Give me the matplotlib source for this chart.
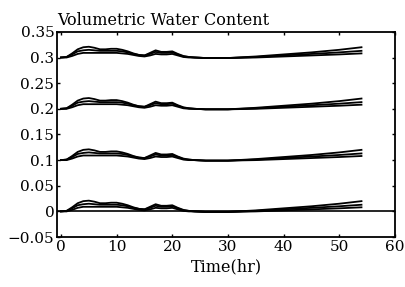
import matplotlib
matplotlib.use("Agg")
import matplotlib.pyplot as plt
import numpy as np

# time (hr)
t = [0, 1, 2, 3, 4, 5, 6, 7, 8, 9, 10, 11, 12, 13, 14, 15, 16, 17, 18, 19,
     20, 21, 22, 23, 24, 26, 28, 30, 35, 40, 45, 50, 54]

# change in water content (upper / middle / lower profile)
upper = [0, 0.001, 0.008, 0.016, 0.020, 0.021, 0.019, 0.016, 0.016, 0.017,
         0.017, 0.015, 0.012, 0.008, 0.005, 0.004, 0.009, 0.014, 0.011, 0.011,
         0.012, 0.007, 0.003, 0.001, 0.000, -0.001, -0.001, -0.001, 0.002,
         0.006, 0.010, 0.015, 0.020]
middle = [0, 0.001, 0.006, 0.012, 0.014, 0.015, 0.014, 0.013, 0.013, 0.013,
          0.013, 0.012, 0.010, 0.007, 0.005, 0.004, 0.007, 0.011, 0.009, 0.009,
          0.010, 0.006, 0.002, 0.001, 0.000, -0.001, -0.001, -0.001, 0.001,
          0.004, 0.007, 0.010, 0.013]
lower = [0, 0.000, 0.003, 0.007, 0.009, 0.009, 0.009, 0.009, 0.009, 0.009,
         0.009, 0.008, 0.007, 0.005, 0.003, 0.002, 0.004, 0.007, 0.006, 0.006,
         0.007, 0.004, 0.001, 0.000, 0.000, -0.001, -0.001, -0.001, 0.000,
         0.002, 0.004, 0.006, 0.008]

offsets = [0.0, 0.1, 0.2, 0.3]

plt.rcParams['font.family'] = 'DejaVu Serif'

fig = plt.figure(figsize=(4.05, 2.87), dpi=100)
ax = fig.add_axes([0.141, 0.174, 0.834, 0.715])

for off in offsets:
    for s in (upper, middle, lower):
        ax.plot(t, np.array(s) + off, color='black', lw=1.3)

ax.axhline(0, color='black', lw=1.2)

ax.set_xlim(-0.7, 60)
ax.set_ylim(-0.05, 0.35)
ax.set_xticks([0, 10, 20, 30, 40, 50, 60])
ax.set_yticks([-0.05, 0, 0.05, 0.1, 0.15, 0.2, 0.25, 0.3, 0.35])
ax.set_yticklabels(['\u22120.05', '0', '0.05', '0.1', '0.15', '0.2', '0.25', '0.3', '0.35'])
ax.tick_params(direction='in', length=2.5, width=1, labelsize=11,
               top=True, right=True, pad=2)
for sp in ax.spines.values():
    sp.set_linewidth(1.3)

ax.set_xlabel('Time(hr)', fontsize=11.5, labelpad=3)
ax.set_title('Volumetric Water Content', loc='left', fontsize=11.5, pad=5)

fig.savefig('out.png', dpi=100)
